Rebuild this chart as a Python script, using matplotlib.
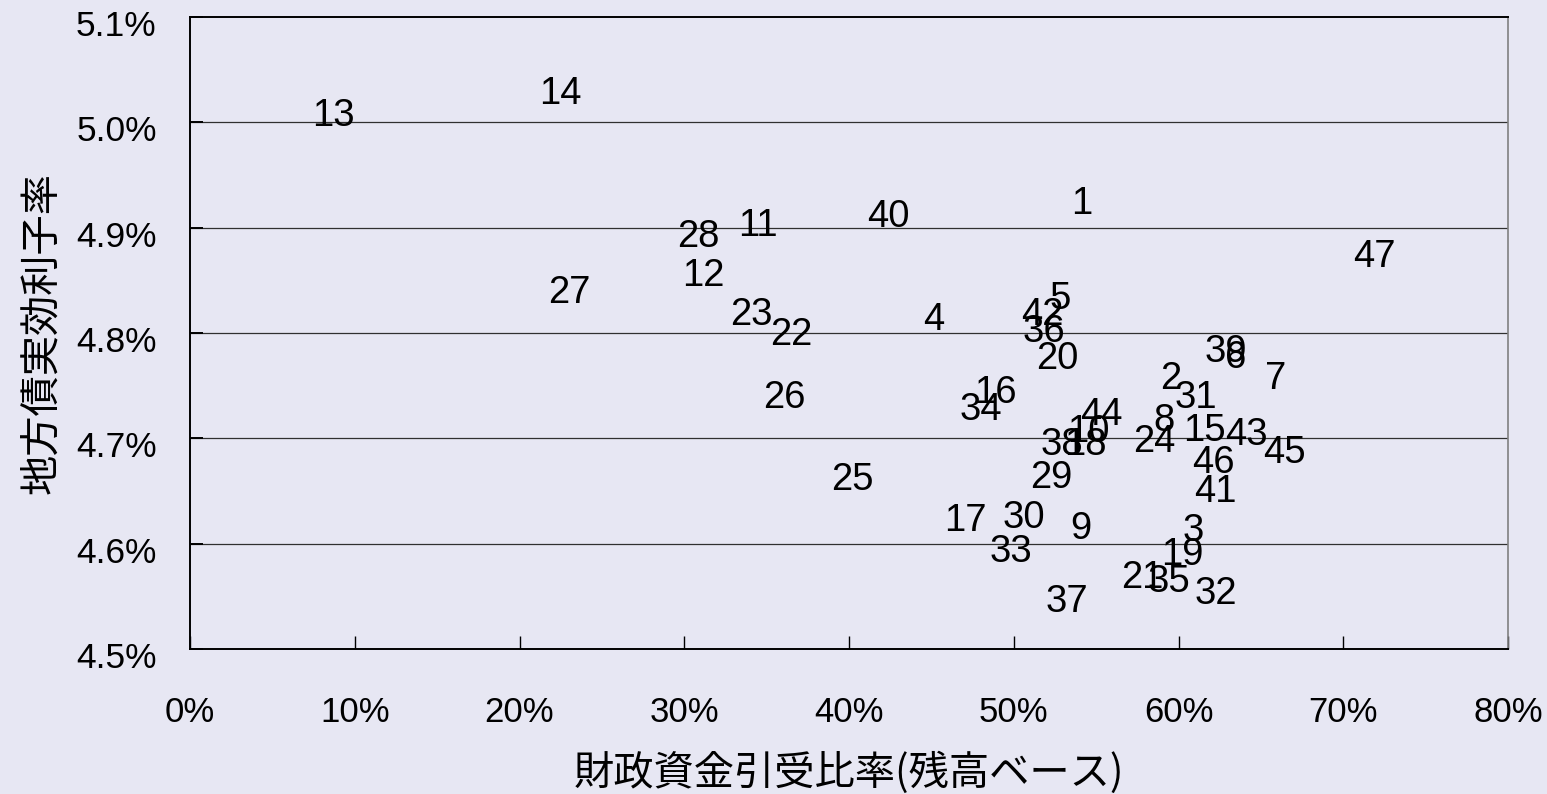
import matplotlib
matplotlib.use("Agg")
import matplotlib.pyplot as plt
from matplotlib.transforms import ScaledTranslation

plt.rcParams['font.family'] = ['Liberation Sans', 'Noto Sans CJK JP', 'DejaVu Sans']

# prefecture ids
labels = [str(i) for i in range(1, 48)]
# 財政資金引受比率 (%), 残高ベース
x_ratio = [54.14, 59.54, 60.88, 45.16, 52.81, 63.49, 65.92, 59.12, 54.08, 54.51,
           34.48, 31.14, 8.68, 22.46, 61.55, 48.86, 47.04, 54.32, 60.21, 52.63,
           57.78, 36.48, 34.05, 58.51, 40.18, 36.05, 23.00, 30.83, 52.26, 50.62,
           61.06, 62.28, 49.83, 48.01, 59.42, 51.84, 53.23, 52.93, 62.88, 42.37,
           62.22, 51.71, 64.10, 55.30, 66.40, 62.09, 71.87]
# 地方債実効利子率 (%)
y_rate = [4.926, 4.760, 4.616, 4.816, 4.836, 4.780, 4.760, 4.720, 4.618, 4.710,
          4.905, 4.858, 5.010, 5.031, 4.711, 4.747, 4.625, 4.697, 4.593, 4.779,
          4.571, 4.802, 4.821, 4.700, 4.664, 4.742, 4.842, 4.895, 4.666, 4.628,
          4.742, 4.556, 4.596, 4.731, 4.567, 4.805, 4.548, 4.697, 4.786, 4.914,
          4.653, 4.821, 4.707, 4.726, 4.690, 4.680, 4.876]

x_ticks = [0, 10, 20, 30, 40, 50, 60, 70, 80]
x_ticklabels = ['0%', '10%', '20%', '30%', '40%', '50%', '60%', '70%', '80%']
y_ticks = [4.5, 4.6, 4.7, 4.8, 4.9, 5.0, 5.1]
y_ticklabels = ['4.5%', '4.6%', '4.7%', '4.8%', '4.9%', '5.0%', '5.1%']

x_title = '財政資金引受比率(残高ベース)'
y_title = '地方債実効利子率'

bg = '#E7E7F3'
fig = plt.figure(figsize=(15.47, 7.94), dpi=100, facecolor=bg)
ax = fig.add_axes([190/1547, 1-649/794, (1508-190)/1547, (649-17)/794])
ax.set_facecolor(bg)

ax.scatter(x_ratio, y_rate, s=0)
for lab, xv, yv in zip(labels, x_ratio, y_rate):
    ax.text(xv, yv, lab, ha='center', va='center_baseline', fontsize=27.5,
            color='black', family=['Liberation Sans'])

ax.set_xlim(0, 80)
ax.set_ylim(4.5, 5.1)
ax.set_xticks(x_ticks)
ax.set_xticklabels(x_ticklabels)
ax.set_yticks(y_ticks)
ax.set_yticklabels(y_ticklabels)

for yv in y_ticks[1:-1]:
    ax.axhline(yv, color='#303030', lw=0.9, zorder=0)

for side in ['left', 'top', 'bottom']:
    ax.spines[side].set_color('black')
    ax.spines[side].set_linewidth(1.4)
ax.spines['right'].set_color('#808080')
ax.spines['right'].set_linewidth(1.2)

ax.tick_params(axis='x', direction='in', length=9.5, width=1.0, pad=34,
               labelsize=25, colors='black')
ax.tick_params(axis='y', direction='in', length=9.5, width=1.4, pad=24,
               labelsize=25.5, colors='black')

for t in ax.get_yticklabels():
    t.set_transform(t.get_transform() + ScaledTranslation(0, -0.06, fig.dpi_scale_trans))

ax.set_xlabel(x_title, fontsize=29, family=['Noto Sans CJK JP'], labelpad=16)
ax.set_ylabel(y_title, fontsize=29, family=['Noto Sans CJK JP'], labelpad=10)

fig.savefig('out.png', dpi=100, facecolor=bg)
